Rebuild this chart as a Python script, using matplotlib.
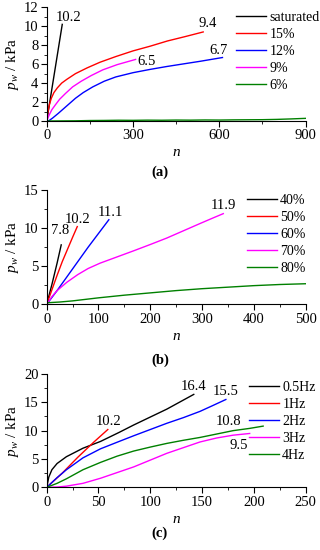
import matplotlib
matplotlib.use("Agg")
import matplotlib.pyplot as plt
from matplotlib.ticker import MultipleLocator

plt.rcParams['font.family'] = ['Liberation Serif', 'DejaVu Serif']
plt.rcParams['mathtext.fontset'] = 'custom'
plt.rcParams['mathtext.rm'] = 'Liberation Serif'
plt.rcParams['mathtext.it'] = 'Liberation Serif:italic'

# ---------- Panel (a): moisture ----------
a_labels = ["saturated", "15%", "12%", "9%", "6%"]
a_sat_n = [0, 54]
a_sat_p = [0, 10.2]
a_15_n = [0, 4, 9, 16, 25, 37, 52, 70, 100, 140, 185, 240, 300, 360, 420, 480, 544]
a_15_p = [0, 0.9, 1.7, 2.4, 3.0, 3.5, 4.0, 4.4, 5.0, 5.6, 6.2, 6.8, 7.4, 7.9, 8.45, 8.9, 9.4]
a_12_n = [0, 6, 20, 40, 70, 100, 127, 160, 200, 240, 300, 360, 417, 480, 533, 611]
a_12_p = [0, 0.0, 0.3, 0.8, 1.6, 2.4, 3.0, 3.6, 4.2, 4.65, 5.1, 5.45, 5.75, 6.05, 6.3, 6.7]
a_9_n = [0, 8, 18, 30, 45, 65, 90, 120, 155, 195, 245, 309]
a_9_p = [0, 0.6, 1.2, 1.7, 2.3, 2.9, 3.6, 4.2, 4.8, 5.4, 5.95, 6.5]
a_6_n = [0, 100, 150, 200, 250, 300, 350, 400, 450, 500, 550, 600, 650, 700, 750, 800, 850, 900]
a_6_p = [0.0, 0.02, 0.05, 0.06, 0.08, 0.07, 0.09, 0.08, 0.10, 0.09, 0.11, 0.10, 0.12, 0.13, 0.14, 0.17, 0.22, 0.28]
a_ann = ["10.2", "9.4", "6.5", "6.7"]

# ---------- Panel (b): saturation ----------
b_labels = ["40%", "50%", "60%", "70%", "80%"]
b_40_n = [0, 10, 20, 28]
b_40_p = [0, 2.6, 5.4, 7.8]
b_50_n = [0, 10, 20, 30, 40, 50, 59]
b_50_p = [0, 1.9, 3.8, 5.6, 7.2, 8.8, 10.2]
b_60_n = [0, 20, 40, 60, 80, 100, 120]
b_60_p = [0, 1.8, 3.7, 5.6, 7.5, 9.3, 11.1]
b_70_n = [0, 10, 20, 39, 60, 80, 103, 135, 167, 200, 232, 264, 296, 320, 341]
b_70_p = [0, 1.0, 1.8, 2.9, 3.9, 4.7, 5.4, 6.2, 7.0, 7.85, 8.7, 9.65, 10.6, 11.3, 11.9]
b_80_n = [0, 25, 50, 100, 150, 200, 250, 300, 350, 400, 450, 500]
b_80_p = [0.2, 0.3, 0.45, 0.85, 1.2, 1.5, 1.8, 2.05, 2.25, 2.45, 2.6, 2.7]
b_ann = ["7.8", "10.2", "11.1", "11.9"]

# ---------- Panel (c): frequency ----------
c_labels = ["0.5Hz", "1Hz", "2Hz", "3Hz", "4Hz"]
c_05_n = [0, 2, 5, 10, 19, 35, 52, 70, 84, 100, 116, 130, 142]
c_05_p = [0, 1.8, 3.1, 4.2, 5.4, 6.9, 8.1, 9.7, 11.0, 12.4, 13.8, 15.2, 16.4]
c_1_n = [0, 15, 30, 45, 59]
c_1_p = [0, 2.5, 5.3, 7.9, 10.2]
c_2_n = [0, 10, 19, 35, 52, 70, 84, 100, 116, 132, 148, 160, 173]
c_2_p = [0, 1.7, 3.1, 5.2, 6.8, 8.1, 9.1, 10.2, 11.3, 12.3, 13.4, 14.4, 15.5]
c_3_n = [0, 10, 19, 35, 52, 68, 84, 100, 116, 132, 148, 164, 180, 196]
c_3_p = [0, 0.05, 0.2, 0.7, 1.6, 2.6, 3.6, 4.8, 6.0, 7.0, 8.0, 8.7, 9.2, 9.5]
c_4_n = [0, 10, 19, 35, 52, 68, 84, 100, 116, 132, 148, 164, 180, 196, 209]
c_4_p = [0, 0.7, 1.5, 3.1, 4.4, 5.5, 6.4, 7.1, 7.75, 8.3, 8.8, 9.4, 10.0, 10.4, 10.8]
c_ann = ["16.4", "10.2", "15.5", "9.5", "10.8"]

colors = ["black", "#ff0000", "#0000ff", "#ff00ff", "#008000"]
FS = 10.5

fig = plt.figure(figsize=(3.2, 5.5), dpi=100)

def style(ax, xmax, xmaj, xmin, ymax, ymaj, ymin):
    ax.set_xlim(0, xmax)
    ax.set_ylim(0, ymax)
    ax.xaxis.set_major_locator(MultipleLocator(xmaj))
    ax.xaxis.set_minor_locator(MultipleLocator(xmin))
    ax.yaxis.set_major_locator(MultipleLocator(ymaj))
    ax.yaxis.set_minor_locator(MultipleLocator(ymin))
    ax.spines['top'].set_visible(False)
    ax.spines['right'].set_visible(False)
    ax.tick_params(which='major', direction='out', length=4, width=0.8, labelsize=FS, pad=2)
    ax.tick_params(which='minor', direction='out', length=2, width=0.6)
    ax.set_xlabel(r"$\mathit{n}$", fontsize=11, labelpad=3)
    ax.set_ylabel(r"$\mathit{p}_{\mathit{w}}$ / kPa", fontsize=11, labelpad=2)
    ax.patch.set_alpha(0)

def legend(ax, handles, labels, loc):
    return ax.legend(handles, labels, loc='upper left', bbox_to_anchor=loc, frameon=False,
                     fontsize=10, handlelength=2.15, handletextpad=0.25,
                     labelspacing=0.28, borderaxespad=0, borderpad=0)

def label_end(ax, text, n, p, off):
    ax.annotate(text, (n[-1], p[-1]), xytext=off, textcoords='offset points',
                fontsize=FS, ha='center', va='center')

# (a)
axa = fig.add_axes([0.146, 0.780, 0.809, 0.2067])
series_a = [(a_sat_n, a_sat_p), (a_15_n, a_15_p), (a_12_n, a_12_p), (a_9_n, a_9_p), (a_6_n, a_6_p)]
ha = [axa.plot(n, p, color=c, lw=1)[0] for (n, p), c in zip(series_a, colors)]
style(axa, 900, 300, 150, 12, 2, 1)
legend(axa, ha, a_labels, (0.731, 0.967))
label_end(axa, a_ann[0], a_sat_n, a_sat_p, (4.3, 5.3))
label_end(axa, a_ann[1], a_15_n, a_15_p, (2.9, 5.8))
label_end(axa, a_ann[2], a_9_n, a_9_p, (8.2, -1.2))
label_end(axa, a_ann[3], a_12_n, a_12_p, (-3.2, 5.4))
fig.text(0.5, 1 - 172 / 550, "(a)", ha='center', va='center', fontsize=FS, fontweight='bold')

# (b)
axb = fig.add_axes([0.146, 0.4467, 0.809, 0.2078])
series_b = [(b_40_n, b_40_p), (b_50_n, b_50_p), (b_60_n, b_60_p), (b_70_n, b_70_p), (b_80_n, b_80_p)]
hb = [axb.plot(n, p, color=c, lw=1)[0] for (n, p), c in zip(series_b, colors)]
style(axb, 500, 100, 50, 15, 5, 2.5)
legend(axb, hb, b_labels, (0.773, 0.965))
label_end(axb, b_ann[0], b_40_n, b_40_p, (-0.9, 10.7))
label_end(axb, b_ann[1], b_50_n, b_50_p, (0, 4.8))
label_end(axb, b_ann[2], b_60_n, b_60_p, (0.8, 5.3))
label_end(axb, b_ann[3], b_70_n, b_70_p, (0, 6.2))
fig.text(0.5, 1 - 360 / 550, "(b)", ha='center', va='center', fontsize=FS, fontweight='bold')

# (c)
axc = fig.add_axes([0.146, 0.114, 0.809, 0.206])
series_c = [(c_05_n, c_05_p), (c_1_n, c_1_p), (c_2_n, c_2_p), (c_3_n, c_3_p), (c_4_n, c_4_p)]
hc = [axc.plot(n, p, color=c, lw=1)[0] for (n, p), c in zip(series_c, colors)]
style(axc, 250, 50, 25, 20, 5, 2.5)
legend(axc, hc, c_labels, (0.781, 0.938))
label_end(axc, c_ann[0], c_05_n, c_05_p, (0, 5.5))
label_end(axc, c_ann[1], c_1_n, c_1_p, (0.4, 6.1))
label_end(axc, c_ann[2], c_2_n, c_2_p, (0, 5.6))
label_end(axc, c_ann[3], c_3_n, c_3_p, (-7.8, -9))
label_end(axc, c_ann[4], c_4_n, c_4_p, (-25, 3.2))
fig.text(0.5, 1 - 533 / 550, "(c)", ha='center', va='center', fontsize=FS, fontweight='bold')

fig.savefig("out.png", dpi=100)
